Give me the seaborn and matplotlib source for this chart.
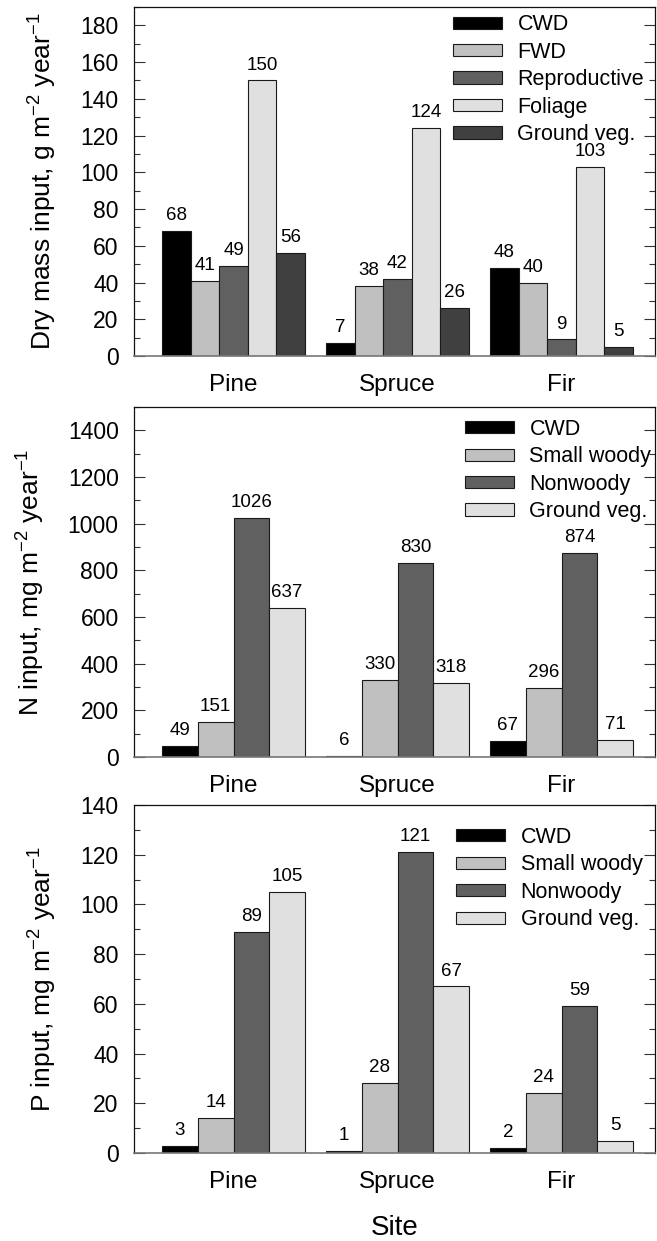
import matplotlib
matplotlib.use('Agg')
import matplotlib.pyplot as plt
import seaborn as sns
import pandas as pd
from matplotlib.ticker import MultipleLocator

# ---------------- data ----------------
sites = ['Pine', 'Spruce', 'Fir']

dry_components = ['CWD', 'FWD', 'Reproductive', 'Foliage', 'Ground veg.']
dry_cwd = [68, 7, 48]
dry_fwd = [41, 38, 40]
dry_repro = [49, 42, 9]
dry_foliage = [150, 124, 103]
dry_ground = [56, 26, 5]

n_components = ['CWD', 'Small woody', 'Nonwoody', 'Ground veg.']
n_cwd = [49, 6, 67]
n_small = [151, 330, 296]
n_nonwoody = [1026, 830, 874]
n_ground = [637, 318, 71]

p_components = ['CWD', 'Small woody', 'Nonwoody', 'Ground veg.']
p_cwd = [3, 1, 2]
p_small = [14, 28, 24]
p_nonwoody = [89, 121, 59]
p_ground = [105, 67, 5]

dry_colors = ['#000000', '#c0c0c0', '#606060', '#e0e0e0', '#404040']
nut_colors = ['#000000', '#c0c0c0', '#606060', '#e0e0e0']


def long_df(components, series):
    rows = []
    for comp, vals in zip(components, series):
        for s, v in zip(sites, vals):
            rows.append({'Site': s, 'Component': comp, 'value': v})
    return pd.DataFrame(rows)


df_dry = long_df(dry_components, [dry_cwd, dry_fwd, dry_repro, dry_foliage, dry_ground])
df_n = long_df(n_components, [n_cwd, n_small, n_nonwoody, n_ground])
df_p = long_df(p_components, [p_cwd, p_small, p_nonwoody, p_ground])

# ---------------- style ----------------
sns.set_theme(style='ticks')
plt.rcParams['font.family'] = ['Liberation Sans', 'DejaVu Sans']
plt.rcParams['mathtext.fontset'] = 'custom'
plt.rcParams['mathtext.rm'] = 'Liberation Sans'
plt.rcParams['text.color'] = 'black'
plt.rcParams['axes.labelcolor'] = 'black'
plt.rcParams['xtick.color'] = 'black'
plt.rcParams['ytick.color'] = 'black'

W, H = 657, 1241
fig = plt.figure(figsize=(W / 100, H / 100), dpi=100)

left_px, right_px = 134, 655


def make_axes(top_px, bottom_px):
    return fig.add_axes([left_px / W, 1 - bottom_px / H,
                         (right_px - left_px) / W, (bottom_px - top_px) / H])


panels = [
    (make_axes(7, 356), df_dry, dry_components, dry_colors, 190, 20, 10,
     r'Dry mass input, g m$^{\mathregular{-2}}$ year$^{\mathregular{-1}}$',
     (0.612, 0.979)),
    (make_axes(407, 757), df_n, n_components, nut_colors, 1500, 200, 100,
     r'N input, mg m$^{\mathregular{-2}}$ year$^{\mathregular{-1}}$',
     (0.635, 0.966)),
    (make_axes(805, 1153), df_p, p_components, nut_colors, 140, 20, 10,
     r'P input, mg m$^{\mathregular{-2}}$ year$^{\mathregular{-1}}$',
     (0.618, 0.937)),
]

for i, (ax, df, comps, cols, ymax, major, minor, ylabel, leg_anchor) in enumerate(panels):
    sns.barplot(data=df, x='Site', y='value', hue='Component', hue_order=comps,
                order=sites, palette=cols, width=0.872, gap=0, errorbar=None,
                edgecolor='#1a1a1a', linewidth=0.8, saturation=1, legend=False, ax=ax)
    for cont in ax.containers:
        ax.bar_label(cont, fmt='{:.0f}', padding=5, fontsize=13.5, color='black')
    ax.set_xlim(-0.607, 2.570)
    ax.set_ylim(0, ymax)
    ax.yaxis.set_major_locator(MultipleLocator(major))
    ax.yaxis.set_minor_locator(MultipleLocator(minor))
    ax.tick_params(axis='y', which='major', direction='in', length=8, width=0.8,
                   left=True, right=True, labelsize=16.5, pad=11, color='#333333',
                   labelcolor='black')
    ax.tick_params(axis='y', which='minor', direction='in', length=4, width=0.8,
                   left=True, right=True, color='#333333')
    ax.tick_params(axis='x', length=0, labelsize=17.5, pad=13, labelcolor='black')
    for side in ['left', 'top', 'right']:
        ax.spines[side].set_color('#111111')
        ax.spines[side].set_linewidth(0.9)
    ax.spines['bottom'].set_color('#777777')
    ax.spines['bottom'].set_linewidth(1.2)
    ax.set_ylabel(ylabel, fontsize=19, labelpad=16, color='black')
    if i == 2:
        ax.set_xlabel('Site', fontsize=20, labelpad=16, color='black')
    else:
        ax.set_xlabel('')
    handles = [c.patches[0] for c in ax.containers]
    ax.legend(handles, comps, loc='upper left', bbox_to_anchor=leg_anchor,
              frameon=False, fontsize=15.5, handlelength=2.3, handleheight=0.5,
              handletextpad=0.7, labelspacing=0.3, borderpad=0, borderaxespad=0)

fig.savefig('out.png', dpi=100)
